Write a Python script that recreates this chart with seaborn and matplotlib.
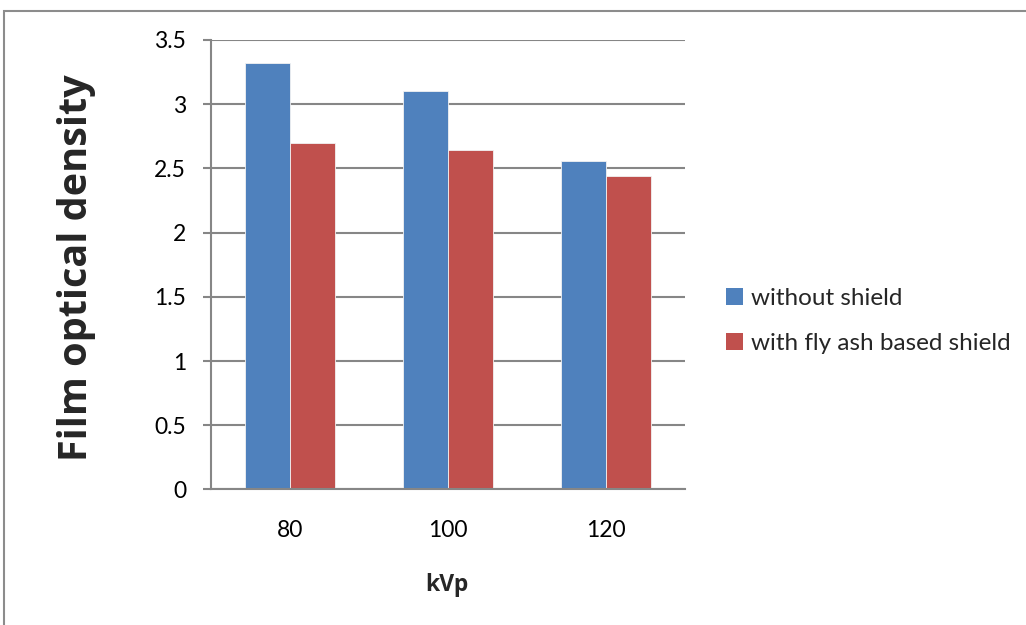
import matplotlib
matplotlib.use("Agg")
import matplotlib.pyplot as plt
import matplotlib.patches as mpatches
import seaborn as sns
import pandas as pd

# Measured film optical density at each tube voltage
kvp_labels = ["80", "100", "120"]
without_shield = [3.32, 3.10, 2.56]
with_fly_ash_shield = [2.70, 2.64, 2.44]
series_names = ["without shield", "with fly ash based shield"]
series_colors = ["#4F81BD", "#C0504D"]

df = pd.DataFrame({
    "kVp": kvp_labels * 2,
    "density": without_shield + with_fly_ash_shield,
    "series": [series_names[0]] * len(kvp_labels) + [series_names[1]] * len(kvp_labels),
})

sns.set_theme(style="white")
plt.rcParams["font.family"] = ["Lato", "DejaVu Sans"]

fig = plt.figure(figsize=(10.26, 6.25), dpi=100)
ax = fig.add_axes([211 / 1026, 1 - 489.4 / 625, 474 / 1026, (489.4 - 40) / 625])

sns.barplot(data=df, x="kVp", y="density", hue="series", order=kvp_labels,
            hue_order=series_names, palette=series_colors, width=0.57,
            saturation=1, edgecolor="#F2F2F2", linewidth=0.6, ax=ax, legend=False)

ax.set_ylim(0, 3.5)
ax.set_yticks([0, 0.5, 1, 1.5, 2, 2.5, 3, 3.5])
ax.set_yticklabels(["0", "0.5", "1", "1.5", "2", "2.5", "3", "3.5"])
ax.yaxis.grid(True, color="#868686", linewidth=1.5)
ax.set_axisbelow(True)
for side in ["top", "right"]:
    ax.spines[side].set_visible(False)
for side in ["left", "bottom"]:
    ax.spines[side].set_color("#868686")
    ax.spines[side].set_linewidth(1.5)
ax.tick_params(axis="y", which="both", left=True, length=6, width=1.5,
               color="#868686", pad=12, labelsize=16.5, labelcolor="black")
ax.tick_params(axis="x", length=0, pad=22, labelsize=16.5, labelcolor="black")
ax.set_xlabel("")
ax.set_ylabel("")

# Axis titles
fig.text(77 / 1026, 1 - 268 / 625, "Film optical density", rotation=90,
         ha="center", va="center", fontsize=28.5, fontweight="bold",
         family=["Open Sans", "DejaVu Sans"])
fig.text(447 / 1026, 1 - 585 / 625, "kVp", ha="center", va="center",
         fontsize=16.5, fontweight="bold", family=["Open Sans", "DejaVu Sans"])

# Legend with square swatches
handles = [mpatches.Patch(facecolor=c, edgecolor="none") for c in series_colors]
fig.legend(handles, series_names, loc="center left",
           bbox_to_anchor=(716 / 1026, 1 - 321 / 625), frameon=False,
           fontsize=17.5, handlelength=0.7, handleheight=0.7,
           handletextpad=0.35, labelspacing=1.0, borderaxespad=0)

# Chart border
fig.patches.append(mpatches.Rectangle((4 / 1026, -0.05), 1.1, 1 - 11 / 625 + 0.05,
                                      transform=fig.transFigure, fill=False,
                                      edgecolor="#8C8C8C", linewidth=1.5))

fig.savefig("out.png", dpi=100)
